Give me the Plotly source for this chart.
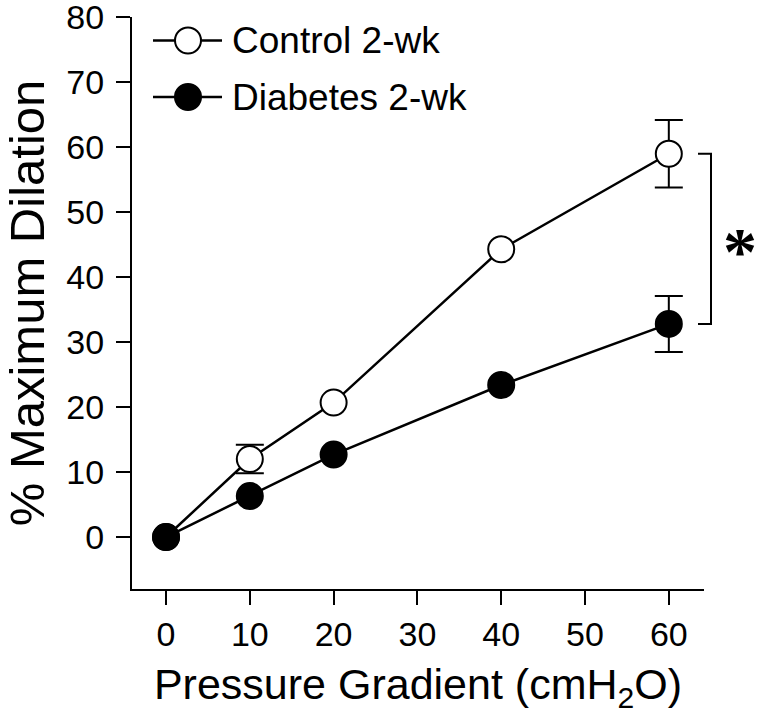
import plotly.graph_objects as go

pressure = [0, 10, 20, 40, 60]
control = [0, 12.0, 20.7, 44.3, 59.0]
control_err = [0, 2.2, 0, 0, 5.2]
diabetes = [0, 6.3, 12.7, 23.4, 32.8]
diabetes_err = [0, 0, 0, 0, 4.3]
series_names = ["Control 2-wk", "Diabetes 2-wk"]
x_ticks = [0, 10, 20, 30, 40, 50, 60]
y_ticks = [0, 10, 20, 30, 40, 50, 60, 70, 80]

FONT = "Liberation Sans, Arial, sans-serif"
W, H = 757, 714
L, R, T, B = 132, 53, 17, 125
PW, PH = W - L - R, H - T - B


def px2paper_x(px):
    return (px - L) / PW


def px2paper_y(py):
    return (H - B - py) / PH


fig = go.Figure()

# error bars (drawn first, behind markers)
for ys, errs in [(control, control_err), (diabetes, diabetes_err)]:
    idx = [i for i, e in enumerate(errs) if e > 0]
    fig.add_trace(go.Scatter(
        x=[pressure[i] for i in idx], y=[ys[i] for i in idx],
        mode="markers", marker=dict(size=1, color="rgba(0,0,0,0)"),
        error_y=dict(type="data", array=[errs[i] for i in idx], visible=True,
                     color="black", thickness=2, width=14),
        showlegend=False, hoverinfo="skip"))

fig.add_trace(go.Scatter(
    x=pressure, y=control, mode="lines+markers", name=series_names[0],
    line=dict(color="black", width=2.5),
    marker=dict(size=26, color="white", line=dict(color="black", width=2)),
    showlegend=False))
fig.add_trace(go.Scatter(
    x=pressure, y=diabetes, mode="lines+markers", name=series_names[1],
    line=dict(color="black", width=2.5),
    marker=dict(size=26, color="black", line=dict(color="black", width=2)),
    showlegend=False))

shapes = []
annotations = []
# manual legend
for name, fill, py in [(series_names[0], "white", 40.5), (series_names[1], "black", 97)]:
    yp = px2paper_y(py)
    shapes.append(dict(type="line", xref="paper", yref="paper",
                       x0=px2paper_x(153), x1=px2paper_x(222), y0=yp, y1=yp,
                       line=dict(color="black", width=2.5)))
    shapes.append(dict(type="circle", xref="paper", yref="paper",
                       xsizemode="pixel", ysizemode="pixel",
                       xanchor=px2paper_x(188), yanchor=yp,
                       x0=-13, x1=13, y0=-13, y1=13,
                       fillcolor=fill, line=dict(color="black", width=2)))
    annotations.append(dict(text=name, xref="paper", yref="paper",
                            x=px2paper_x(230), y=yp, xanchor="left", yanchor="middle",
                            showarrow=False, font=dict(family=FONT, size=37, color="black")))

# significance bracket
bx0, bx1 = px2paper_x(698), px2paper_x(711)
ytop, ybot = control[-1], diabetes[-1]
shapes.append(dict(type="path", xref="paper", yref="y",
                   path=f"M {bx0},{ytop} L {bx1},{ytop} L {bx1},{ybot} L {bx0},{ybot}",
                   line=dict(color="black", width=2)))
annotations.append(dict(text="<b>*</b>", xref="paper", yref="y",
                        x=px2paper_x(740), y=(ytop + ybot) / 2, xanchor="center", yanchor="middle",
                        yshift=-12, showarrow=False,
                        font=dict(family="Liberation Serif, Times New Roman, serif", size=68, color="black")))

fig.update_layout(
    width=W, height=H,
    margin=dict(l=L, r=R, t=T, b=B, pad=0, autoexpand=False),
    paper_bgcolor="white", plot_bgcolor="white",
    font=dict(family=FONT, color="black"),
    shapes=shapes, annotations=annotations,
    showlegend=False,
)
fig.update_xaxes(
    range=[-4.06, 64.2], tickmode="array", tickvals=x_ticks, automargin=False,
    ticks="outside", ticklen=14, tickwidth=2, tickcolor="black",
    showline=True, linecolor="black", linewidth=2,
    showgrid=False, zeroline=False, ticklabeloverflow="allow",
    tickfont=dict(family=FONT, size=34, color="black"),
    title=dict(text="Pressure Gradient (cmH<sub>2</sub>O)",
               font=dict(family=FONT, size=43, color="black"), standoff=17),
)
fig.update_yaxes(
    range=[-8, 80.05], tickmode="array", tickvals=y_ticks, automargin=False,
    ticks="outside", ticklen=14, tickwidth=2, tickcolor="black",
    ticklabelstandoff=5, ticklabeloverflow="allow",
    showline=True, linecolor="black", linewidth=2,
    showgrid=False, zeroline=False,
    tickfont=dict(family=FONT, size=34, color="black"),
    title=dict(text="% Maximum Dilation",
               font=dict(family=FONT, size=49, color="black"), standoff=14),
)

fig.write_html("out.html", config={"displayModeBar": False},
               post_script="document.body.style.margin='0';")
